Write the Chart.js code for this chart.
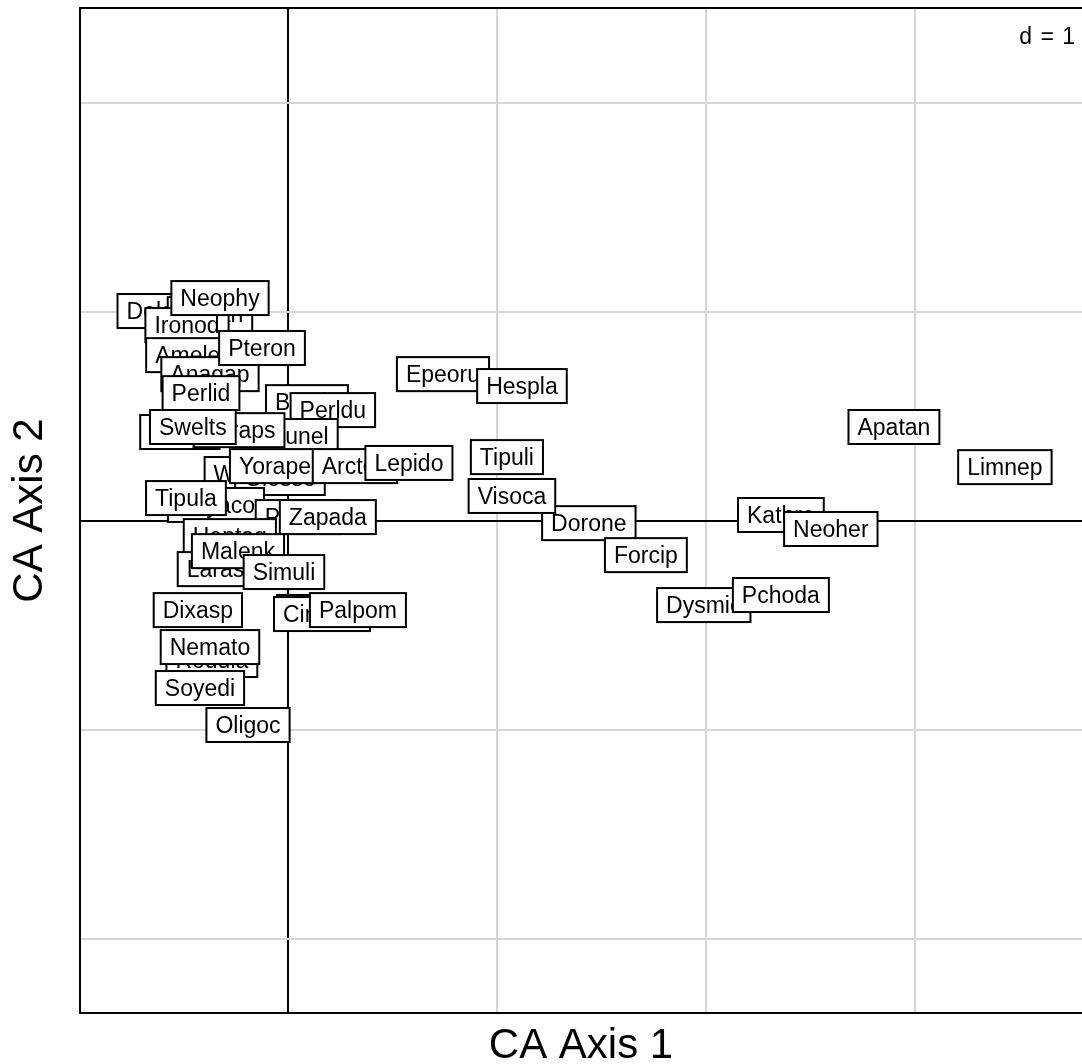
<!DOCTYPE html>
<html>
<head>
<meta charset="utf-8">
<script src="https://cdn.jsdelivr.net/npm/chart.js@4.4.1/dist/chart.umd.min.js"></script>
<style>
  body { margin: 0; background: #ffffff; }
  #wrap { width: 1082px; height: 1064px; position: relative; }
</style>
</head>
<body>
<div id="wrap"><canvas id="caChart"></canvas></div>
<script>
// Étiquettes des taxons (ordre = ordre de dessin, du fond vers l'avant)
const labelNames = [
    'Dolaph', 'Dicran', 'Ironod', 'Neophy', 'Amelet', 'Anagap', 'Pteron', 'Perlid',
    'Baetis', 'Perldu', 'Rhithr', 'Drunel', 'Paraps', 'Swelts', 'Wormal', 'Glosso',
    'Yorape', 'Arctop', 'Lepido', 'Rhyaco', 'Tipula', 'Parale', 'Zapada', 'Heptag',
    'Larasp', 'Malenk', 'Simuli', 'Dixasp', 'Chiron', 'Cinygm', 'Palpom', 'Roddia',
    'Nemato', 'Soyedi', 'Oligoc', 'Epeoru', 'Hespla', 'Tipuli', 'Dorone', 'Visoca',
    'Forcip', 'Dysmic', 'Pchoda', 'Kathro', 'Neoher', 'Apatan', 'Limnep'
];
// Coordonnées sur l'axe 1 de l'AFC
const axis1 = [
    -0.598, -0.373, -0.483, -0.325, -0.464, -0.373, -0.124, -0.416,
    0.091, 0.215, -0.517, 0.033, -0.234, -0.455, -0.167, -0.038,
    -0.062, 0.321, 0.579, -0.344, -0.488, 0.048, 0.191, -0.278,
    -0.316, -0.239, -0.019, -0.431, 0.153, 0.163, 0.335, -0.364,
    -0.373, -0.421, -0.191, 0.742, 1.120, 1.048, 1.440, 1.072,
    1.713, 1.990, 2.359, 2.359, 2.598, 2.900, 3.431
];
// Coordonnées sur l'axe 2 de l'AFC
const axis2 = [
    1.005, 0.990, 0.938, 1.067, 0.794, 0.703, 0.828, 0.612,
    0.569, 0.531, 0.426, 0.407, 0.435, 0.450, 0.225, 0.206,
    0.263, 0.263, 0.278, 0.077, 0.110, 0.019, 0.019, -0.072,
    -0.230, -0.144, -0.244, -0.426, -0.435, -0.445, -0.426, -0.665,
    -0.603, -0.799, -0.976, 0.703, 0.646, 0.306, -0.010, 0.120,
    -0.163, -0.402, -0.354, 0.029, -0.038, 0.450, 0.258
];
// Lignes de grille (pas d = 1)
const xTicks = [0, 1, 2, 3];
const yTicks = [-2, -1, 0, 1, 2];
const gridStep = 'd = 1';

const fontFamily = '"Liberation Sans", Arial, sans-serif';
const labelFont = '23px ' + fontFamily;

// Plugin : étiquettes encadrées (style s.label d'ade4) + cadre + "d = 1"
const boxLabels = {
    id: 'boxLabels',
    afterDatasetsDraw(chart) {
        const ctx = chart.ctx;
        const xs = chart.scales.x;
        const ys = chart.scales.y;
        const area = chart.chartArea;
        ctx.save();
        ctx.beginPath();
        ctx.rect(area.left, area.top, area.right - area.left, area.bottom - area.top);
        ctx.clip();
        ctx.font = labelFont;
        ctx.textAlign = 'center';
        ctx.textBaseline = 'middle';
        labelNames.forEach((name, i) => {
            const px = xs.getPixelForValue(axis1[i]);
            const py = ys.getPixelForValue(axis2[i]);
            const w = ctx.measureText(name).width + 18;
            const h = 34;
            ctx.fillStyle = '#ffffff';
            ctx.fillRect(px - w / 2, py - h / 2, w, h);
            ctx.lineWidth = 2;
            ctx.strokeStyle = '#000000';
            ctx.strokeRect(px - w / 2, py - h / 2, w, h);
            ctx.fillStyle = '#000000';
            ctx.fillText(name, px, py + 1.5);
        });
        ctx.restore();

        // cadre haut
        ctx.save();
        ctx.strokeStyle = '#000000';
        ctx.lineWidth = 2;
        ctx.beginPath();
        ctx.moveTo(area.left, area.top);
        ctx.lineTo(area.right, area.top);
        ctx.stroke();
        // échelle
        ctx.font = labelFont;
        ctx.letterSpacing = '1px';
        ctx.fillStyle = '#000000';
        ctx.textAlign = 'right';
        ctx.textBaseline = 'middle';
        ctx.fillText(gridStep, area.right - 6, area.top + 30);
        ctx.restore();
    }
};

document.addEventListener('DOMContentLoaded', function() {
    const ctx = document.getElementById('caChart').getContext('2d');
    const points = labelNames.map((n, i) => ({ x: axis1[i], y: axis2[i] }));

    const gridColor = (c) => c.tick && c.tick.value === 0 ? '#000000' : '#d6d6d6';

    new Chart(ctx, {
        type: 'scatter',
        data: {
            datasets: [{
                label: 'Taxons',
                data: points,
                pointRadius: 0,
                pointHoverRadius: 0
            }]
        },
        options: {
            responsive: true,
            maintainAspectRatio: false,
            animation: false,
            layout: { padding: { top: 8, right: 0, left: 0, bottom: 0 } },
            scales: {
                x: {
                    type: 'linear',
                    min: -0.995,
                    max: 3.8,
                    afterBuildTicks: (scale) => { scale.ticks = xTicks.map(v => ({ value: v })); },
                    afterFit: (scale) => { scale.height = 51; },
                    ticks: { display: false },
                    grid: { color: gridColor, lineWidth: 2, drawTicks: false },
                    border: { display: true, color: '#000000', width: 2 },
                    title: {
                        display: true,
                        text: 'CA Axis 1',
                        color: '#000000',
                        font: { family: fontFamily, size: 42, lineHeight: 1 },
                        padding: { top: 0, bottom: -3 }
                    }
                },
                y: {
                    type: 'linear',
                    min: -2.354,
                    max: 2.455,
                    afterBuildTicks: (scale) => { scale.ticks = yTicks.map(v => ({ value: v })); },
                    afterFit: (scale) => { scale.width = 80; },
                    ticks: { display: false },
                    grid: { color: gridColor, lineWidth: 2, drawTicks: false },
                    border: { display: true, color: '#000000', width: 2 },
                    title: {
                        display: true,
                        text: 'CA Axis 2',
                        color: '#000000',
                        font: { family: fontFamily, size: 42, lineHeight: 1 },
                        padding: { top: 9, bottom: 0 }
                    }
                }
            },
            plugins: {
                legend: { display: false },
                tooltip: { enabled: false }
            }
        },
        plugins: [boxLabels]
    });
});
</script>
</body>
</html>
